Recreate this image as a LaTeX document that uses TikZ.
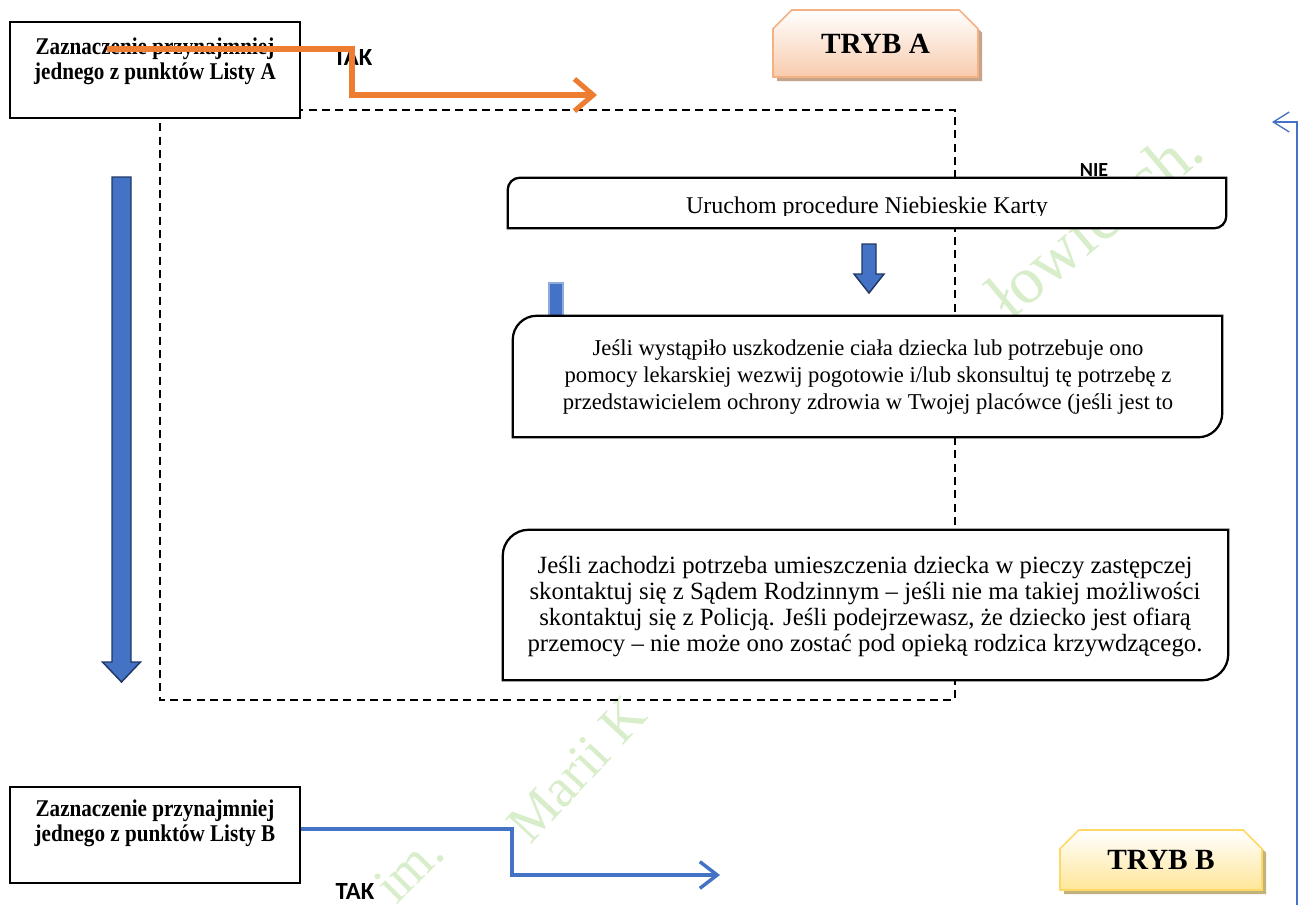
\documentclass[tikz,border=0pt]{standalone}
\usepackage{fontspec}
\setmainfont{Liberation Serif}
\newfontfamily\calib{Carlito}
\newfontfamily\condser[FakeStretch=0.88]{Liberation Serif}
\usetikzlibrary{arrows.meta,calc,shapes.misc,shadows}
\definecolor{orangeA}{HTML}{ED7D31}
\definecolor{blueA}{HTML}{4472C4}
\definecolor{navyA}{HTML}{203864}
\definecolor{stubedge}{HTML}{8FAADC}
\definecolor{peach}{HTML}{F8CBAD}
\definecolor{peachedge}{HTML}{F4B183}
\definecolor{peachshadow}{HTML}{C6A48C}
\definecolor{yellowA}{HTML}{FFE699}
\definecolor{yellowedge}{HTML}{FFD966}
\definecolor{yellowshadow}{HTML}{C2B27C}
\definecolor{wmgreen}{HTML}{D8EDCA}
\newcommand\diagoutline[2]{%
  \draw[roundline] (#1.south west) -- ($(#1.north west)+(0,#2)$)
    .. controls ($(#1.north west)+(0,0.45*#2)$) and ($(#1.north west)+(0.45*#2,0)$) .. ($(#1.north west)+(#2,0)$)
    -- (#1.north east) -- ($(#1.south east)+(0,-#2)$)
    .. controls ($(#1.south east)+(0,-0.45*#2)$) and ($(#1.south east)+(-0.45*#2,0)$) .. ($(#1.south east)+(-#2,0)$) -- cycle;}
\begin{document}
\begin{tikzpicture}[x=0.75pt,y=-0.75pt,
  blankshape/.style={rectangle, inner sep=0pt, draw=none},
  plainbox/.style={rectangle, inner sep=0pt, draw=black, line width=1.5pt, fill=white},
  roundline/.style={draw=black, line width=1.7pt, fill=white},
  boldtext/.style={align=center, inner sep=0pt, font=\condser\bfseries\fontsize{18pt}{18.75pt}\selectfont},
  yesno/.style={inner sep=0pt, font=\calib\bfseries\fontsize{18.5pt}{20pt}\selectfont},
  tryb/.style={chamfered rectangle, chamfered rectangle corners={north west,north east},
    chamfered rectangle xsep=7pt, chamfered rectangle ysep=7pt, inner sep=0pt,
    line width=1.2pt, font=\bfseries\fontsize{22pt}{26pt}\selectfont},
  blockarrow/.style={fill=blueA, draw=navyA, line width=1.1pt, line join=miter},
  dashline/.style={draw=black, line width=1.1pt, dash pattern=on 6pt off 4pt},
  orangearrow/.style={draw=orangeA, line width=3.8pt, -{Straight Barb[length=14pt,width=24pt]}},
  bluearrow/.style={draw=blueA, line width=2.6pt, -{Straight Barb[length=13pt,width=20pt]}},
  thinarrow/.style={draw=blueA, line width=1pt, -{Straight Barb[length=12pt,width=15pt]}},
  wm/.style={text=wmgreen, inner sep=0pt, font=\fontsize{41pt}{41pt}\selectfont}
]
\useasboundingbox (0,0) rectangle (1303,904);
\fill[white] (0,0) rectangle (1303,904);

% watermark
\node[wm, rotate=45, anchor=base west] (wm1) at (396,906) {im.};
\node[wm, rotate=47, anchor=base west] (wm2) at (530,846) {Marii K};
\node[wm, rotate=40, anchor=base west, font=\fontsize{50pt}{50pt}\selectfont] (wm3) at (1010,322) {łowicach.};

% dashed frame
\draw[dashline] (160,110) rectangle (955,700);

% big blue arrow
\draw[blockarrow] (112,177) -- (131,177) -- (131,662) -- (140.5,662) -- (121.5,682) -- (102.5,662) -- (112,662) -- cycle;

% stub arrow behind box 2
\draw[fill=blueA, draw=stubedge, line width=0.8pt] (549,283) rectangle (563,330);

% box A
\node[plainbox, minimum width=217.5pt, minimum height=72pt] (boxA) at (155,70) {};
\node[boldtext] (boxAt) at (155,61) {Zaznaczenie przynajmniej\\jednego z punktów Listy A};

% TAK top
\node[yesno] (takA) at (353,57) {TAK};
\coordinate (oS) at (107,49);
\coordinate (oB) at (352,49);
\coordinate (oE) at (597,95);
\draw[orangearrow] (oS) -- (oB) |- (oE);

% TRYB A
\node[tryb, minimum width=153.75pt, minimum height=50.25pt, top color=white, bottom color=peach, draw=peachedge,
  drop shadow={shadow xshift=3pt, shadow yshift=-3pt, fill=peachshadow, opacity=1}] (trybA) at (875.5,43.5) {TRYB A};

% NIE
\node[yesno, font=\calib\bfseries\fontsize{15pt}{17pt}\selectfont] (nie) at (1094,170) {NIE};

% box Uruchom
\node[blankshape, minimum width=538.5pt, minimum height=37.5pt] (boxN) at (867,203) {};
\diagoutline{boxN}{12}
\begin{scope}
  \clip (510,180) rectangle (1224,215);
  \node[anchor=base, inner sep=0pt, font=\fontsize{18pt}{20pt}\selectfont] (boxNt) at (867,213) {Uruchom procedure Niebieskie Karty};
\end{scope}

% small blue arrow
\draw[blockarrow] (862,244) -- (876,244) -- (876,274) -- (884,274) -- (869,293) -- (854,274) -- (862,274) -- cycle;

% box 2
\node[blankshape, minimum width=531.75pt, minimum height=90.75pt] (box2) at (867.5,376.5) {};
\diagoutline{box2}{24}
\node[align=center, inner sep=0pt, font=\fontsize{17pt}{20.25pt}\selectfont] (box2t) at (868,377)
  {Jeśli wystąpiło uszkodzenie ciała dziecka lub potrzebuje ono\\
   pomocy lekarskiej wezwij pogotowie i/lub skonsultuj tę potrzebę z\\
   przedstawicielem ochrony zdrowia w Twojej placówce (jeśli jest to};

% box 3
\node[blankshape, minimum width=543.75pt, minimum height=112.5pt] (box3) at (865.5,605) {};
\diagoutline{box3}{26}
\node[align=center, inner sep=0pt, font=\fontsize{18.6pt}{19.5pt}\selectfont] (box3t) at (865,607)
  {Jeśli zachodzi potrzeba umieszczenia dziecka w pieczy zastępczej\\
   skontaktuj się z Sądem Rodzinnym – jeśli nie ma takiej możliwości\\
   skontaktuj się z Policją. Jeśli podejrzewasz, że dziecko jest ofiarą\\
   przemocy – nie może ono zostać pod opieką rodzica krzywdzącego.};

% box B
\node[plainbox, minimum width=217.5pt, minimum height=72pt] (boxB) at (155,835) {};
\node[boldtext] (boxBt) at (155,823) {Zaznaczenie przynajmniej\\jednego z punktów Listy B};
\coordinate (bB) at (512,829);
\coordinate (bE) at (720,875);
\draw[bluearrow] (boxB.east |- bB) -- (bB) |- (bE);
\node[yesno] (takB) at (355,891) {TAK};

% TRYB B
\node[tryb, minimum width=151.5pt, minimum height=45pt, top color=white, bottom color=yellowA, draw=yellowedge,
  drop shadow={shadow xshift=3pt, shadow yshift=-3pt, fill=yellowshadow, opacity=1}] (trybB) at (1161,860) {TRYB B};

% right thin line
\coordinate (rBot) at (1297,910);
\coordinate (rTop) at (1297,122);
\coordinate (rTip) at (1272,122);
\draw[thinarrow] (rBot) -- (rTop) -- (rTip);
\end{tikzpicture}
\end{document}
